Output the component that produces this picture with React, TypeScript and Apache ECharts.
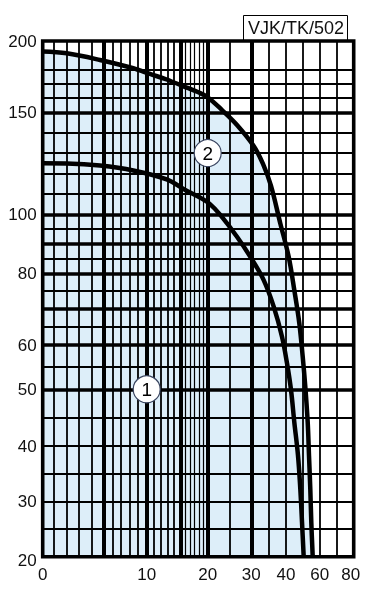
import React, { useEffect, useRef } from "react";
import * as echarts from "echarts";

// ---- Axis tick labels ----
const xTickLabels = [0, 10, 20, 30, 40, 60, 80];
const yTickLabels = [20, 30, 40, 50, 60, 80, 100, 150, 200];

// ---- Axis calibration (the chart uses an irregular, non-linear paper) ----
const X_STOPS = [0, 10, 20, 30, 40, 60, 80];
const X_UNITS = [0, 104, 165, 208.6, 243.3, 277, 311];
const Y_STOPS = [20, 30, 40, 50, 60, 80, 100, 150, 200];
const Y_UNITS = [0, 55, 110.7, 167.4, 211.7, 283.4, 342.4, 444.4, 515.7];

// ---- Grid lines (values on the axes) ----
const xGridThick = [5.9, 10, 15.5, 20, 30];
const xGridThin = [1.1, 2.3, 3.5, 4.7, 6.7, 7.5, 8.4, 9.1, 11.2, 12.3, 13.4, 14.4, 25, 35, 40, 50, 60, 70];
const xGridFine = [16.3, 17.1, 17.8, 18.6, 19.2];
const yGridThick = [50, 60, 70, 80, 90, 100, 150];
const yGridThin = [25, 30, 35, 40, 45, 55, 65, 75, 85, 95, 110, 120, 130, 140, 160, 170, 180];

// ---- Curves ----
const curve1X = [0, 2.31, 5.51, 8.71, 13.28, 16.61, 18.74, 20.53, 22.89, 26.72, 29.77, 33.57, 36.46, 38.85, 40.59, 42.97, 44.93, 47.12, 48.49, 49.5, 50.5];
const curve1Y = [125, 124.9, 123.9, 121.5, 117.1, 111.4, 108.2, 105, 99.8, 92.4, 85.6, 78.1, 70.7, 62.3, 55.9, 49.9, 44.2, 38.3, 32.3, 26.3, 20];
const curve2X = [0, 2.31, 5.51, 8.71, 10.54, 13.28, 15.95, 18.74, 20.07, 23.28, 26.72, 30.69, 33.37, 35.68, 38.36, 41.6, 44.93, 47.89, 49.91, 51.45, 52.88, 53.65, 54.42, 55.01, 55.85];
const curve2Y = [192.6, 191.4, 186.7, 180.9, 176.9, 173, 168.4, 163.5, 160.4, 151.6, 143.8, 133.5, 124.7, 113.9, 96.9, 85.6, 75.3, 66.1, 57.4, 50.6, 44.2, 38.3, 32.3, 26.3, 20];

// ---- Curve labels ----
const curveLabels = ["1", "2"];
const curveLabelX = [10, 20];
const curveLabelY = [50, 130];

const title = "VJK/TK/502";

function interp(stops: number[], units: number[], v: number): number {
  if (v <= stops[0]) return units[0];
  for (let i = 0; i < stops.length - 1; i++) {
    if (v <= stops[i + 1]) {
      return units[i] + ((v - stops[i]) / (stops[i + 1] - stops[i])) * (units[i + 1] - units[i]);
    }
  }
  return units[units.length - 1];
}
const xc = (v: number) => interp(X_STOPS, X_UNITS, v);
const yc = (v: number) => interp(Y_STOPS, Y_UNITS, v);

const FONT = "'Liberation Sans', Arial, Helvetica, sans-serif";

export default function App() {
  const ref = useRef<HTMLDivElement>(null);
  useEffect(() => {
    if (!ref.current) return;
    const chart = echarts.init(ref.current, null, { renderer: "svg" });

    const c1 = curve1X.map((x, i) => [xc(x), yc(curve1Y[i])]);
    const c2 = curve2X.map((x, i) => [xc(x), yc(curve2Y[i])]);

    const vLine = (v: number, w: number) => ({ xAxis: xc(v), lineStyle: { width: w, color: "#000", type: "solid" } });
    const hLine = (v: number, w: number) => ({ yAxis: yc(v), lineStyle: { width: w, color: "#000", type: "solid" } });

    const gridData = [
      ...xGridFine.map((v) => vLine(v, 1.2)),
      ...xGridThin.map((v) => vLine(v, 1.8)),
      ...yGridThin.map((v) => hLine(v, 1.8)),
      ...xGridThick.map((v) => vLine(v, 4)),
      ...yGridThick.map((v) => hLine(v, 3.6)),
    ];

    const labelFor = (ticks: number[], f: (v: number) => number, special: Record<string, string>) => (val: number) => {
      for (const t of ticks) {
        if (Math.abs(f(t) - val) < 0.5) {
          const s = String(t);
          return special[s] ? `{${special[s]}|${s}}` : s;
        }
      }
      return "";
    };

    const labelStyle = { fontSize: 17, color: "#111", fontFamily: FONT };

    chart.setOption({
      animation: false,
      title: {
        text: title,
        left: 243,
        top: 15,
        padding: [4, 4, 4, 5],
        borderColor: "#000",
        borderWidth: 1,
        textStyle: { fontSize: 18, fontWeight: "normal", color: "#111", fontFamily: FONT, lineHeight: 18 },
      },
      grid: {
        left: 42.7,
        right: 33.3,
        top: 41,
        bottom: 32.3,
        show: true,
        borderColor: "#000",
        borderWidth: 3.6,
        backgroundColor: "transparent",
        z: 5,
      },
      xAxis: {
        type: "value",
        min: 0,
        max: X_UNITS[X_UNITS.length - 1],
        axisLine: { show: false },
        axisTick: { show: false },
        splitLine: { show: false },
        axisLabel: {
          customValues: xTickLabels.map(xc),
          formatter: labelFor(xTickLabels, xc, { "80": "r" }),
          ...labelStyle,
          margin: 9,
          showMinLabel: true,
          showMaxLabel: true,
          rich: { r: { ...labelStyle, padding: [0, 6, 0, 0] } },
        },
      },
      yAxis: {
        type: "value",
        min: 0,
        max: Y_UNITS[Y_UNITS.length - 1],
        axisLine: { show: false },
        axisTick: { show: false },
        splitLine: { show: false },
        axisLabel: {
          customValues: yTickLabels.map(yc),
          formatter: labelFor(yTickLabels, yc, { "20": "d" }),
          ...labelStyle,
          margin: 6,
          showMinLabel: true,
          showMaxLabel: true,
          rich: { d: { ...labelStyle, padding: [8, 0, 0, 0] } },
        },
      },
      series: [
        {
          type: "line",
          data: c2,
          smooth: 0.35,
          showSymbol: false,
          lineStyle: { width: 0 },
          areaStyle: { color: "#ddeef9", opacity: 1, origin: "start" },
          silent: true,
          z: 1,
        },
        {
          type: "line",
          data: [[0, 0]],
          showSymbol: false,
          lineStyle: { width: 0 },
          silent: true,
          z: 2,
          markLine: {
            silent: true,
            symbol: ["none", "none"],
            label: { show: false },
            emphasis: { disabled: true },
            data: gridData,
          },
        },
        {
          type: "line",
          data: c1,
          smooth: 0.35,
          showSymbol: false,
          lineStyle: { width: 4.5, color: "#000" },
          silent: true,
          z: 3,
        },
        {
          type: "line",
          data: c2,
          smooth: 0.35,
          showSymbol: false,
          lineStyle: { width: 4.5, color: "#000" },
          silent: true,
          z: 3,
        },
        {
          type: "line",
          data: [[0, 0]],
          showSymbol: false,
          lineStyle: { width: 0 },
          silent: true,
          z: 4,
          markPoint: {
            silent: true,
            data: curveLabels.map((t, i) => ({
              coord: [xc(curveLabelX[i]), yc(curveLabelY[i])],
              symbol: "circle",
              symbolSize: 27,
              itemStyle: { color: "#fff", borderColor: "#3a4560", borderWidth: 1.2 },
              label: { show: true, position: "inside", formatter: t, fontSize: 19, color: "#000", fontFamily: FONT },
            })),
          },
        },
      ],
    });
    return () => chart.dispose();
  }, []);
  return <div ref={ref} style={{ position: "fixed", left: 0, top: 0, width: 387, height: 589 }} />;
}
